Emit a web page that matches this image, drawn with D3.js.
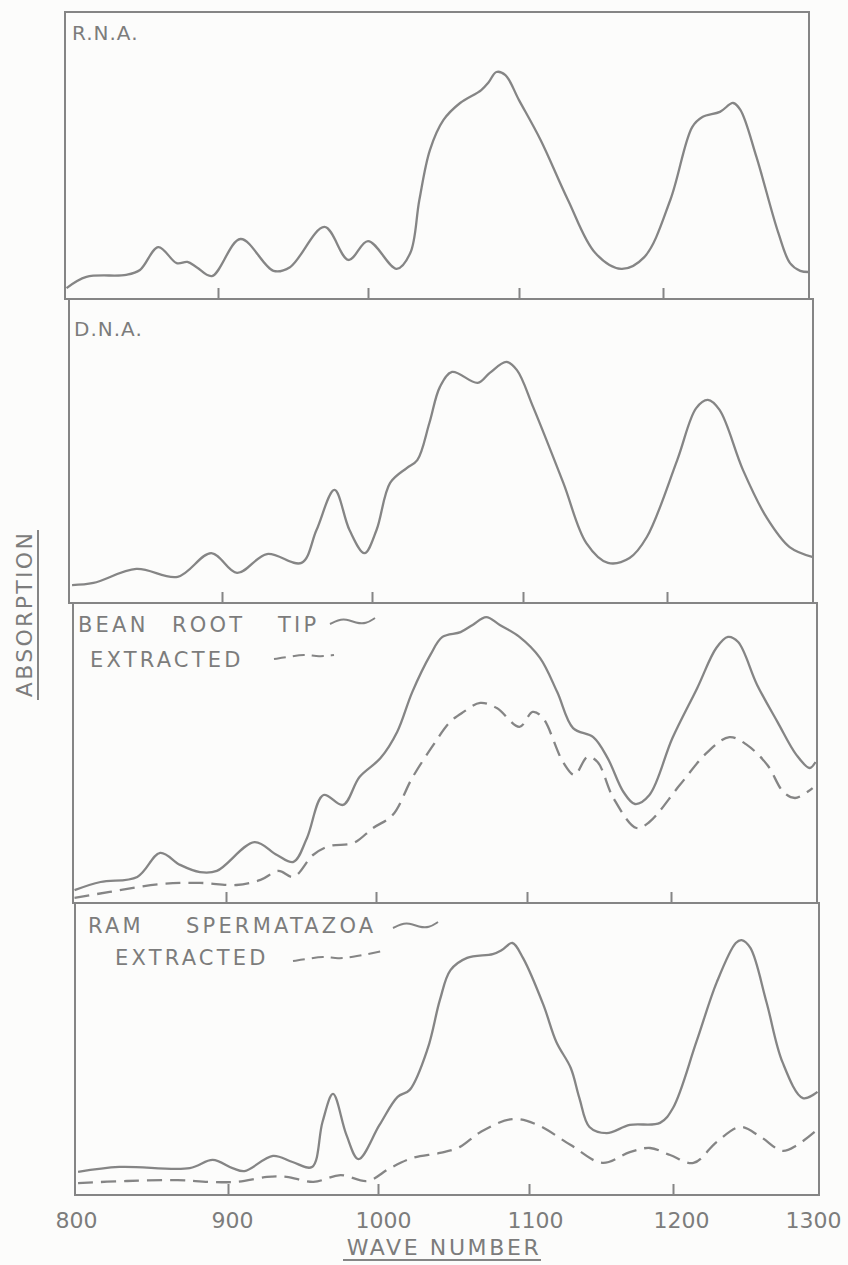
<!DOCTYPE html>
<html>
<head>
<meta charset="utf-8">
<script src="https://cdn.jsdelivr.net/npm/d3@7"></script>
<style>
  body { margin: 0; background: #fcfcfb; }
  svg { display: block; }
  text { font-family: "DejaVu Sans", sans-serif; fill: #7c7c7c; }
</style>
</head>
<body>
<div id="plot"></div>
<script>
// wave number ticks and labels
const waveTicks = [800, 900, 1000, 1100, 1200, 1300];
const innerTicks = [900, 1000, 1100, 1200];
const panelNames = ["R.N.A.", "D.N.A.", "BEAN ROOT TIP", "RAM SPERMATAZOA"];

// absorption (arbitrary units, 0-100 of each panel): [wave number, absorption]
const rna = [[801,3.8],[814,7.7],[840,8.4],[849,10.1],[861,18.1],[873,12.5],[880,12.9],[886,11.1],[896,8.0],
  [915,20.9],[937,9.8],[948,11.1],[971,25.1],[987,13.6],[1000,20.2],[1019,10.5],[1028,16.0],[1034,34.5],
  [1041,51.9],[1050,62.4],[1061,68.3],[1075,72.8],[1080,75.6],[1085,79.1],[1091,78],[1100,69.3],[1115,55.4],
  [1134,34.5],[1153,16],[1171,10.5],[1187,14.6],[1205,34.5],[1220,59.9],[1227,63.4],[1239,65.2],[1248,68.3],
  [1253,65.9],[1264,49.5],[1279,23],[1287,12.5],[1294,9.8],[1300,9.4]];

const dna = [[802,5.9],[816,6.6],[844,11.2],[871,8.6],[893,16.4],[910,9.9],[930,16.1],[953,13.2],[963,24],
  [975,37.2],[985,24],[995,16.4],[1003,24],[1012,39.5],[1023,44.4],[1030,47],[1038,59.2],[1045,71.1],
  [1053,76],[1070,72.4],[1078,75.7],[1089,79.3],[1096,76.6],[1107,64.5],[1128,39.5],[1144,19.7],[1159,13.2],
  [1174,14.8],[1186,21.7],[1207,47],[1220,64.1],[1228,66.8],[1236,63.5],[1252,43.8],[1268,28.3],[1284,18.4],
  [1300,15.1]];

const bean = [[801,4.3],[818,7],[842,8.7],[857,16.7],[870,12.7],[883,10.3],[894,10.7],[919,20.3],[934,16],
  [945,13.7],[954,21.7],[965,36],[978,32.7],[989,42],[1003,48.3],[1014,57],[1024,70.3],[1036,82.7],
  [1044,88.7],[1056,90.3],[1064,92.7],[1073,95.3],[1082,92.7],[1095,88.7],[1109,81.7],[1121,70.3],
  [1132,58.3],[1146,55.3],[1156,48.3],[1167,37],[1175,33],[1185,36],[1201,55],[1218,71.7],[1231,85],
  [1239,88.7],[1246,87],[1259,72.7],[1273,60.3],[1286,49.3],[1295,45],[1299,47]];

const beanExtracted = [[801,1.7],[824,3.7],[857,6.3],[883,6.7],[907,6],[923,7.7],[935,10.7],[945,8.7],
  [958,16],[969,19],[985,20],[998,25],[1011,29.3],[1024,41.7],[1038,52.7],[1049,60.3],[1058,63.7],
  [1069,66.7],[1080,65],[1095,58.7],[1104,63.7],[1111,61.7],[1125,47],[1133,42.7],[1142,48.7],[1149,47],
  [1160,35],[1176,25],[1185,27],[1206,39.3],[1225,50.3],[1240,55.3],[1252,52.7],[1266,46],[1277,37],
  [1285,35],[1297,38.3]];

const ram = [[802,7.9],[829,9.6],[875,9.2],[890,12],[903,9.2],[911,8.2],[930,13.4],[943,11.3],[956,9.6],
  [963,25],[970,34.6],[979,20.5],[987,12.3],[1001,24],[1013,33.6],[1021,36],[1033,50.3],[1041,66.8],
  [1048,77],[1059,81.2],[1076,82.5],[1082,83.9],[1089,86.3],[1096,81.2],[1110,65.1],[1119,52.4],
  [1129,43.5],[1135,33.2],[1142,23.3],[1154,21.2],[1170,24],[1191,24.7],[1200,29.8],[1216,52.4],
  [1230,72.9],[1243,86.3],[1247,87.3],[1253,84.6],[1264,66.1],[1275,45.5],[1289,33.2],[1299,35.3]];

const ramExtracted = [[802,4.1],[834,4.8],[867,5.1],[888,4.5],[906,4.5],[926,6.2],[939,6.2],[957,4.5],
  [975,6.8],[993,4.8],[1008,9.2],[1023,12.7],[1041,14.4],[1054,16.4],[1068,21.6],[1089,26],[1106,24],
  [1129,17.1],[1151,11],[1170,14.7],[1184,16.1],[1198,13.7],[1214,11],[1230,18.2],[1246,23.3],
  [1260,19.9],[1275,15.1],[1285,17.1],[1297,21.6]];

// layout of the hand drawn panels (each one sits a little further right)
const tickSpacing = [0, 153, 303, 454, 598, 744];
const panels = [
  { name: panelNames[0], top: 12,  bottom: 299,  left: 65, series: [{ data: rna }] },
  { name: panelNames[1], top: 299, bottom: 603,  left: 69, series: [{ data: dna }] },
  { name: panelNames[2], top: 603, bottom: 903,  left: 73, series: [{ data: bean }, { data: beanExtracted, dashed: true }] },
  { name: panelNames[3], top: 903, bottom: 1195, left: 75, series: [{ data: ram }, { data: ramExtracted, dashed: true }] }
];

const ink = "#858585";
const svg = d3.select("#plot").append("svg")
  .attr("width", 848)
  .attr("height", 1265);

panels.forEach(function (p, i) {
  const x = d3.scaleLinear()
    .domain(waveTicks)
    .range(tickSpacing.map(d => p.left + d));
  const y = d3.scaleLinear()
    .domain([0, 100])
    .range([p.bottom, p.top]);
  p.x = x;

  const g = svg.append("g");

  // panel frame
  g.append("rect")
    .attr("x", x(800))
    .attr("y", p.top)
    .attr("width", x(1300) - x(800))
    .attr("height", p.bottom - p.top)
    .attr("fill", "none")
    .attr("stroke", ink)
    .attr("stroke-width", 2);

  // inward ticks
  const axis = g.append("g")
    .attr("transform", "translate(0," + p.bottom + ")")
    .call(d3.axisBottom(x).tickValues(innerTicks).tickSizeInner(-11).tickSizeOuter(0).tickFormat(""));
  axis.select(".domain").remove();
  axis.selectAll(".tick line").attr("stroke", ink).attr("stroke-width", 2);

  const line = d3.line()
    .x(d => x(d[0]))
    .y(d => y(d[1]))
    .curve(d3.curveCatmullRom.alpha(0.5));

  p.series.forEach(function (s) {
    g.append("path")
      .datum(s.data)
      .attr("d", line)
      .attr("fill", "none")
      .attr("stroke", ink)
      .attr("stroke-width", 2.3)
      .attr("stroke-linejoin", "round")
      .attr("stroke-dasharray", s.dashed ? "15,8" : null);
  });
});

// panel titles
svg.append("text").attr("x", 72).attr("y", 40).attr("font-size", 20).attr("letter-spacing", 1).text(panelNames[0]);
svg.append("text").attr("x", 74).attr("y", 336).attr("font-size", 20).attr("letter-spacing", 1).text(panelNames[1]);

// legend style titles for the lower panels, one word at a time
function legendText(words, starts, yy) {
  words.forEach(function (w, k) {
    svg.append("text")
      .attr("x", starts[k]).attr("y", yy)
      .attr("font-size", 21)
      .attr("letter-spacing", 3.2)
      .text(w);
  });
}
legendText(panelNames[2].split(" "), [78, 172, 278], 632);
legendText(["EXTRACTED"], [90], 667);
legendText(panelNames[3].split(" "), [88, 186], 933);
legendText(["EXTRACTED"], [115], 965);

// little line samples next to the legend words
const wiggle = [[0, 3], [8, -1], [16, -2], [26, 2], [36, 3], [45, -3]];
const dashWiggle = [[0, 4], [15, 2], [30, -1], [45, 2], [60, 0], [75, -3], [90, -6]];
const sample = d3.line().curve(d3.curveBasis);
function drawSample(pts, x0, y0, dashed) {
  svg.append("path")
    .attr("d", sample(pts.map(d => [x0 + d[0], y0 + d[1]])))
    .attr("fill", "none")
    .attr("stroke", ink)
    .attr("stroke-width", 2)
    .attr("stroke-dasharray", dashed ? "12,7" : null);
}
drawSample(wiggle, 330, 621, false);
drawSample(dashWiggle.slice(0, 5), 274, 655, true);
drawSample(wiggle, 393, 925, false);
drawSample(dashWiggle, 293, 957, true);

// bottom wave number labels
const labelShift = [1, 4, 5, 6, 8, -6];
const last = panels[3];
const labels = svg.append("g")
  .attr("transform", "translate(0," + last.bottom + ")")
  .call(d3.axisBottom(last.x).tickValues(waveTicks).tickSize(0).tickPadding(17).tickFormat(d3.format("d")));
labels.select(".domain").remove();
labels.selectAll("text")
  .attr("dx", (d, k) => labelShift[k])
  .attr("font-size", 22)
  .attr("fill", "#7c7c7c")
  .attr("font-family", "DejaVu Sans, sans-serif");

// axis titles
svg.append("text")
  .attr("x", 444).attr("y", 1255)
  .attr("text-anchor", "middle")
  .attr("font-size", 22)
  .attr("letter-spacing", 2.6)
  .text("WAVE NUMBER");
svg.append("line")
  .attr("x1", 343).attr("x2", 541).attr("y1", 1260).attr("y2", 1260)
  .attr("stroke", ink).attr("stroke-width", 2);

svg.append("text")
  .attr("transform", "translate(32,614) rotate(-90)")
  .attr("text-anchor", "middle")
  .attr("font-size", 22)
  .attr("letter-spacing", 2.3)
  .text("ABSORPTION");
svg.append("line")
  .attr("x1", 38).attr("x2", 38).attr("y1", 530).attr("y2", 700)
  .attr("stroke", ink).attr("stroke-width", 2);
</script>
</body>
</html>
